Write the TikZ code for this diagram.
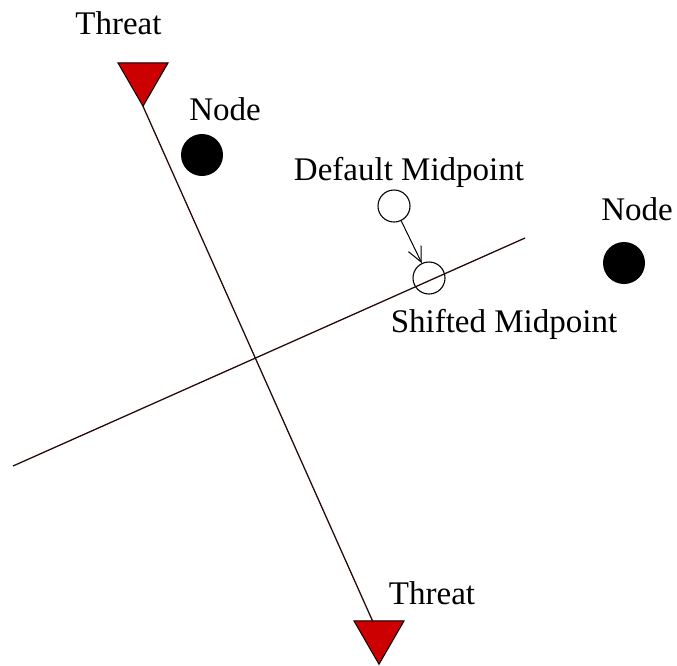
\documentclass[tikz,border=0pt]{standalone}
\usepackage{fontspec}
\setmainfont{Liberation Serif}
\usetikzlibrary{shapes.geometric,arrows.meta}
\definecolor{threatred}{RGB}{204,0,0}
\definecolor{linedark}{RGB}{40,10,10}
\tikzset{
	threat/.style = {regular polygon, regular polygon sides=3, shape border rotate=180,
			minimum size=57.7pt, inner sep=0pt, outer sep=0pt, draw=black, line width=1pt, fill=threatred},
	netnode/.style = {circle, minimum size=42pt, inner sep=0pt, fill=black},
	midpt/.style = {circle, minimum size=32pt, inner sep=0pt, draw=black, line width=1.1pt},
	lbl/.style = {anchor=base, inner sep=0pt, font=\fontsize{33}{40}\selectfont},
	cut/.style = {draw=linedark, line width=1.3pt}
}
\begin{document}
\begin{tikzpicture}[x=1pt, y=1pt]
	\useasboundingbox (0,0) rectangle (677,-665);

	\node [threat] (thrtop) at (143,-77.4) {};
	\node [threat] (thrbot) at (379,-635.4) {};
	\node [lbl] (thrtoplbl) at (118.5,-34) {Threat};
	\node [lbl] (thrbotlbl) at (432,-604) {Threat};

	\node [netnode] (nodea) at (202,-155) {};
	\node [netnode] (nodeb) at (624,-263) {};
	\node [lbl] (nodealbl) at (225,-120) {Node};
	\node [lbl] (nodeblbl) at (637,-220) {Node};

	\node [midpt] (defmid) at (394,-206) {};
	\node [midpt] (shiftmid) at (429,-278) {};
	\node [lbl] (defmidlbl) at (409,-180) {Default Midpoint};
	\node [lbl] (shiftmidlbl) at (504,-332) {Shifted Midpoint};

	\coordinate (bisecl) at (13,-466);
	\coordinate (bisecr) at (525,-238);

	\draw [cut] (thrtop.corner 1) -- (thrbot);
	\draw [cut] (bisecl) -- (bisecr);
	\draw [line width=1pt, -{Straight Barb[length=15pt,width=14pt]}] (defmid) -- (shiftmid);

\end{tikzpicture}
\end{document}
